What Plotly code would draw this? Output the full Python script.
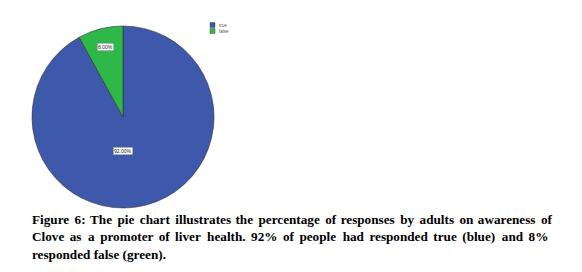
import math
import plotly.graph_objects as go

categories = ["true", "false"]
values = [92, 8]
colors = ["#3E58AC", "#2EB848"]
caption_lines = [
    "Figure 6: The pie chart illustrates the percentage of responses by adults on awareness of",
    "Clove as a promoter of liver health. 92% of people had responded true (blue) and 8%",
    "responded false (green).",
]
caption_extra_units = [24, 34, 0]  # hair spaces added for justification

W, H = 582, 272
OFF = 8  # page body margin
cx, cy, r = 123 - OFF, 117 - OFF, 91  # pixel geometry of pie


def justify(line, extra):
    words = line.split(" ")
    gaps = len(words) - 1
    out = words[0]
    acc = 0.0
    for k in range(gaps):
        acc += extra / gaps if gaps else 0
        n = int(round(acc))
        acc -= n
        out += " " + "\u200a" * n + words[k + 1]
    return out


fig = go.Figure()
fig.add_trace(go.Pie(
    labels=categories, values=values, sort=False, direction="clockwise", rotation=0,
    marker=dict(colors=colors, line=dict(color="#333333", width=0.6)),
    textinfo="none", hoverinfo="label+percent", showlegend=False,
    domain=dict(x=[(cx - r) / W, (cx + r) / W], y=[1 - (cy + r) / H, 1 - (cy - r) / H]),
))

ann = []
total = sum(values)
cum = 0
radial = [0.37, 0.79]
for i, v in enumerate(values):
    mid = (cum + v / 2) / total * 2 * math.pi
    cum += v
    rr = r * radial[i]
    px = cx + rr * math.sin(mid)
    py = cy - rr * math.cos(mid)
    if i == 0:
        px, py = cx, cy + rr
    ann.append(dict(x=px / W, y=1 - py / H, xref="paper", yref="paper",
                    xanchor="center", yanchor="middle",
                    text=f"{v / total * 100:.2f}%", showarrow=False,
                    font=dict(size=5, color="#222222", family="Liberation Sans"),
                    bgcolor="white", bordercolor="#888888", borderwidth=0.5, borderpad=0.5))

# legend
shapes = []
for i, c in enumerate(categories):
    ly = 25 + i * 6 - OFF
    shapes.append(dict(type="rect", xref="paper", yref="paper",
                       x0=(210 - OFF) / W, x1=(215 - OFF) / W, y0=1 - (ly + 2.5) / H, y1=1 - (ly - 2.5) / H,
                       fillcolor=colors[i], line=dict(color="#333333", width=0.4)))
    ann.append(dict(x=(217 - OFF) / W, y=1 - ly / H, xref="paper", yref="paper", xanchor="left",
                    yanchor="middle",
                    text=c, showarrow=False, font=dict(size=4.5, color="#555555", family="Liberation Sans")))

for i, line in enumerate(caption_lines):
    ann.append(dict(x=(30 - OFF) / W, y=1 - (219 + i * 17.5 - OFF) / H, xref="paper", yref="paper",
                    xanchor="left", yanchor="middle",
                    text=f"<b>{justify(line, caption_extra_units[i])}</b>", showarrow=False,
                    font=dict(size=13.2, color="black", family="Liberation Serif")))

fig.update_layout(width=W, height=H, margin=dict(l=0, r=0, t=0, b=0),
                  paper_bgcolor="white", plot_bgcolor="white",
                  annotations=ann, shapes=shapes)
fig.write_html("out.html")
